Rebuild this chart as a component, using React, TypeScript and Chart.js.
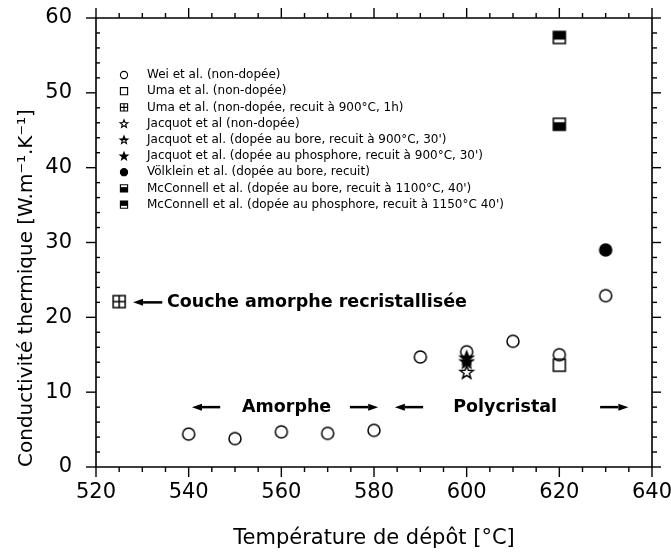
import React, { useEffect, useRef } from 'react';
import { Chart, registerables } from 'chart.js';
Chart.register(...registerables);

const FONT = "'DejaVu Sans', sans-serif";

// ---- data ----
const weiX = [540, 550, 560, 570, 580, 590, 600, 610, 620, 630];
const weiY = [4.4, 3.8, 4.7, 4.5, 4.9, 14.7, 15.4, 16.8, 15.0, 22.9];
const umaX = [620];
const umaY = [13.6];
const umaRecuitX = [525];
const umaRecuitY = [22.1];
const jacquotX = [600];
const jacquotY = [12.7];
const jacquotBoreX = [600];
const jacquotBoreY = [14.6];
const jacquotPhosX = [600];
const jacquotPhosY = [14.1];
const volkleinX = [630];
const volkleinY = [29.0];
const mcBoreX = [620];
const mcBoreY = [45.8];
const mcPhosX = [620];
const mcPhosY = [57.4];

const seriesLabels = [
  'Wei et al. (non-dopée)',
  'Uma et al. (non-dopée)',
  'Uma et al. (non-dopée, recuit à 900°C, 1h)',
  'Jacquot et al (non-dopée)',
  "Jacquot et al. (dopée au bore, recuit à 900°C, 30')",
  "Jacquot et al. (dopée au phosphore, recuit à 900°C, 30')",
  'Völklein et al. (dopée au bore, recuit)',
  "McConnell et al. (dopée au bore, recuit à 1100°C, 40')",
  "McConnell et al. (dopée au phosphore, recuit à 1150°C 40')",
];
const seriesMarkers = [
  'circle', 'square', 'squareCross', 'starOpen', 'starHalf', 'starFilled',
  'circleFilled', 'squareBottom', 'squareTop',
];
const seriesXs = [weiX, umaX, umaRecuitX, jacquotX, jacquotBoreX, jacquotPhosX, volkleinX, mcBoreX, mcPhosX];
const seriesYs = [weiY, umaY, umaRecuitY, jacquotY, jacquotBoreY, jacquotPhosY, volkleinY, mcBoreY, mcPhosY];

const xTickValues = [520, 540, 560, 580, 600, 620, 640];
const yTickValues = [0, 10, 20, 30, 40, 50, 60];

const xTitle = 'Température de dépôt [°C]';
const yTitle = 'Conductivité thermique [W.m\u207B\u00B9.K\u207B\u00B9]';

// annotations: [text, x, y]
const annotTexts: [string, number, number][] = [
  ['Couche amorphe recristallisée', 535.3, 22],
  ['Amorphe', 551.5, 8],
  ['Polycristal', 597.1, 8],
];
// arrows: [xTail, xHead, y]
const annotArrows: [number, number, number][] = [
  [534.3, 528.0, 22],
  [546.8, 540.7, 8],
  [574.8, 580.9, 8],
  [590.6, 584.5, 8],
  [628.8, 634.9, 8],
];

function drawMarker(ctx: CanvasRenderingContext2D, kind: string, cx: number, cy: number, s: number, lw: number) {
  ctx.save();
  ctx.lineWidth = lw;
  ctx.strokeStyle = '#000';
  ctx.fillStyle = '#000';
  const sq = () => { ctx.beginPath(); ctx.rect(cx - s, cy - s, 2 * s, 2 * s); };
  const star = () => {
    ctx.beginPath();
    for (let i = 0; i < 10; i++) {
      const a = -Math.PI / 2 + (i * Math.PI) / 5;
      const r = i % 2 === 0 ? s * 1.15 : s * 0.48;
      const x = cx + r * Math.cos(a);
      const y = cy + r * Math.sin(a) + s * 0.1;
      if (i) ctx.lineTo(x, y); else ctx.moveTo(x, y);
    }
    ctx.closePath();
  };
  switch (kind) {
    case 'circle':
      ctx.beginPath(); ctx.arc(cx, cy, s, 0, Math.PI * 2); ctx.stroke(); break;
    case 'circleFilled':
      ctx.beginPath(); ctx.arc(cx, cy, s, 0, Math.PI * 2); ctx.fill(); ctx.stroke(); break;
    case 'square':
      sq(); ctx.stroke(); break;
    case 'squareCross':
      sq(); ctx.stroke();
      ctx.beginPath(); ctx.moveTo(cx - s, cy); ctx.lineTo(cx + s, cy); ctx.moveTo(cx, cy - s); ctx.lineTo(cx, cy + s); ctx.stroke();
      break;
    case 'squareTop':
      ctx.fillRect(cx - s, cy - s, 2 * s, s * 1.35); sq(); ctx.stroke(); break;
    case 'squareBottom':
      ctx.fillRect(cx - s, cy - s * 0.35, 2 * s, s * 1.35); sq(); ctx.stroke(); break;
    case 'starOpen':
      star(); ctx.stroke(); break;
    case 'starHalf':
      ctx.save(); ctx.beginPath(); ctx.rect(cx - 2 * s, cy - 2 * s, 4 * s, 2 * s + s * 0.15); ctx.clip(); star(); ctx.fill(); ctx.restore();
      star(); ctx.stroke(); break;
    case 'starFilled':
      star(); ctx.fill(); ctx.stroke(); break;
  }
  ctx.restore();
}

function makeMarkerImage(kind: string, s: number, lw: number) {
  const c = document.createElement('canvas');
  const size = Math.ceil(2 * s * 1.3 + 4);
  c.width = size; c.height = size;
  const ctx = c.getContext('2d')!;
  drawMarker(ctx, kind, size / 2, size / 2, s, lw);
  return c;
}

const framePlugin = {
  id: 'frameAxes',
  afterDatasetsDraw(chart: any) {
    const { ctx, chartArea, scales } = chart;
    const { left, right, top, bottom } = chartArea;
    const x = scales.x, y = scales.y;
    const line = (x1: number, y1: number, x2: number, y2: number) => {
      ctx.beginPath(); ctx.moveTo(x1, y1); ctx.lineTo(x2, y2); ctx.stroke();
    };
    ctx.save();
    ctx.strokeStyle = '#000';
    ctx.lineWidth = 1.6;
    ctx.beginPath(); ctx.rect(left, top, right - left, bottom - top); ctx.stroke();
    ctx.lineWidth = 1.4;
    for (let v = x.min; v <= x.max; v += 5) {
      const px = x.getPixelForValue(v);
      const L = v % 20 === 0 ? 10 : 5;
      line(px, bottom, px, bottom + L);
      line(px, top, px, top - L);
    }
    for (let v = y.min; v <= y.max; v += 2) {
      const py = y.getPixelForValue(v);
      const major = v % 10 === 0;
      if (major) line(left - 10, py, left, py); else line(left, py, left + 4, py);
      line(right, py, right + (major ? 9 : 5), py);
    }
    ctx.restore();
  },
};

const annotPlugin = {
  id: 'annot',
  afterDatasetsDraw(chart: any) {
    const { ctx, scales, chartArea } = chart;
    const x = scales.x, y = scales.y;
    ctx.save();
    ctx.fillStyle = '#000';
    ctx.font = `bold 17.5px ${FONT}`;
    ctx.textAlign = 'left';
    ctx.textBaseline = 'middle';
    for (const [t, vx, vy] of annotTexts) ctx.fillText(t, x.getPixelForValue(vx), y.getPixelForValue(vy));
    ctx.strokeStyle = '#000';
    ctx.lineWidth = 2.5;
    for (const [xt, xh, vy] of annotArrows) {
      const pt = x.getPixelForValue(xt), ph = x.getPixelForValue(xh), py = y.getPixelForValue(vy);
      const dir = Math.sign(ph - pt);
      const hl = 10;
      ctx.beginPath(); ctx.moveTo(pt, py); ctx.lineTo(ph - dir * hl, py); ctx.stroke();
      ctx.beginPath(); ctx.moveTo(ph, py); ctx.lineTo(ph - dir * hl, py - 3.5); ctx.lineTo(ph - dir * hl, py + 3.5); ctx.closePath(); ctx.fill();
    }
    // legend
    ctx.font = `12px ${FONT}`;
    const lx = chartArea.left + 28;
    const tx = chartArea.left + 51;
    const ly0 = chartArea.top + 57;
    const dy = 16.2;
    seriesLabels.forEach((lab, i) => {
      const yy = ly0 + i * dy;
      drawMarker(ctx, seriesMarkers[i], lx, yy, 3.6, 1.1);
      ctx.fillText(lab, tx, yy);
    });
    ctx.restore();
  },
};

export default function App() {
  const ref = useRef<HTMLCanvasElement>(null);
  useEffect(() => {
    document.body.style.margin = '0';
    const images = seriesMarkers.map((m) => makeMarkerImage(m, 6, 1.5));
    const datasets = seriesLabels.map((lab, i) => ({
      label: lab,
      data: seriesXs[i].map((vx, j) => ({ x: vx, y: seriesYs[i][j] })),
      pointStyle: images[i] as any,
      pointRadius: 6,
      showLine: false,
    }));
    const chart = new Chart(ref.current!, {
      type: 'scatter',
      data: { datasets },
      plugins: [framePlugin, annotPlugin],
      options: {
        animation: false,
        responsive: true,
        maintainAspectRatio: false,
        layout: { padding: { top: 18, right: 19, left: 0, bottom: 0 } },
        plugins: { legend: { display: false }, tooltip: { enabled: false } },
        scales: {
          x: {
            type: 'linear',
            min: 520,
            max: 640,
            afterBuildTicks: (s: any) => { s.ticks = xTickValues.map((v) => ({ value: v })); },
            afterFit: (s: any) => { s.height = 87; s.paddingLeft = 0; s.paddingRight = 0; },
            grid: { display: false, tickLength: 0, drawTicks: false },
            border: { display: false },
            ticks: { color: '#000', padding: 13, font: { family: FONT, size: 21 } },
            title: { display: true, text: xTitle, color: '#000', font: { family: FONT, size: 21 }, padding: { top: 0, bottom: 3 } },
          },
          y: {
            type: 'linear',
            min: 0,
            max: 60,
            afterBuildTicks: (s: any) => { s.ticks = yTickValues.map((v) => ({ value: v })); },
            afterFit: (s: any) => { s.width = 96; s.paddingTop = 0; s.paddingBottom = 0; },
            grid: { display: false, tickLength: 0, drawTicks: false },
            border: { display: false },
            ticks: { color: '#000', padding: 24, font: { family: FONT, size: 21 } },
            title: { display: true, text: yTitle, align: 'start', color: '#000', font: { family: FONT, size: 20 }, padding: { top: 15, bottom: 0 } },
          },
        },
      },
    });
    return () => chart.destroy();
  }, []);
  return (
    <div style={{ width: 671, height: 554, position: 'relative' }}>
      <canvas ref={ref} />
    </div>
  );
}
